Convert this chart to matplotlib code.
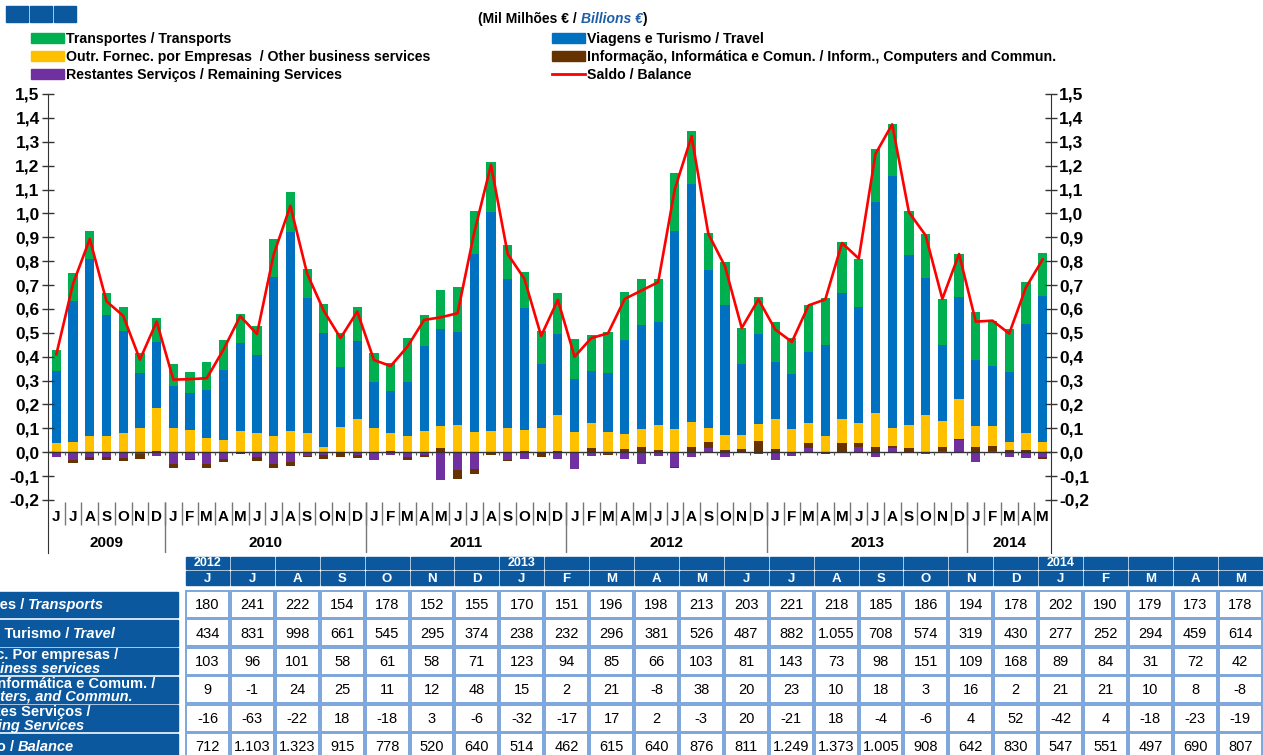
import numpy as np
import matplotlib.pyplot as plt
from matplotlib.patches import Rectangle, Patch
from matplotlib.lines import Line2D

plt.rcParams['font.family'] = ['Liberation Sans', 'DejaVu Sans']
NARROW = ['Liberation Sans Narrow', 'Liberation Sans', 'DejaVu Sans']

W, H = 1263, 755

# monthly values, million euro, Jun 2009 .. May 2014
month_letters = ['J', 'J', 'A', 'S', 'O', 'N', 'D',
                 'J', 'F', 'M', 'A', 'M', 'J', 'J', 'A', 'S', 'O', 'N', 'D',
                 'J', 'F', 'M', 'A', 'M', 'J', 'J', 'A', 'S', 'O', 'N', 'D',
                 'J', 'F', 'M', 'A', 'M', 'J', 'J', 'A', 'S', 'O', 'N', 'D',
                 'J', 'F', 'M', 'A', 'M', 'J', 'J', 'A', 'S', 'O', 'N', 'D',
                 'J', 'F', 'M', 'A', 'M']
years = ['2009', '2010', '2011', '2012', '2013', '2014']
months_per_year = [7, 12, 12, 12, 12, 5]

transports = [88, 117, 118, 90, 101, 84, 99,
              92, 91, 116, 125, 122, 123, 157, 164, 121, 123, 143, 141,
              122, 117, 181, 129, 165, 188, 182, 207, 142, 151, 138, 169,
              166, 150, 171, 202, 195,
              180, 241, 222, 154, 178, 152, 155,
              170, 151, 196, 198, 213, 203, 221, 218, 185, 186, 194, 178,
              202, 190, 179, 173, 178]
travel = [302, 593, 740, 508, 424, 233, 276,
          176, 155, 201, 293, 368, 327, 669, 837, 565, 474, 249, 326,
          192, 178, 226, 359, 405, 391, 746, 918, 626, 512, 271, 341,
          223, 219, 247, 394, 436,
          434, 831, 998, 661, 545, 295, 374,
          238, 232, 296, 381, 526, 487, 882, 1055, 708, 574, 319, 430,
          277, 252, 294, 459, 614]
other_business = [38, 42, 68, 68, 82, 100, 180,
                  100, 92, 61, 52, 88, 80, 66, 87, 80, 24, 107, 140,
                  100, 75, 70, 87, 93, 114, 84, 89, 100, 87, 100, 151,
                  84, 104, 84, 63, 72,
                  103, 96, 101, 58, 61, 58, 71,
                  123, 94, 85, 66, 103, 81, 143, 73, 98, 151, 109, 168,
                  89, 84, 31, 72, 42]
information = [-2, -13, -12, -12, -11, -20, 7,
               -15, -2, -18, -10, -6, -15, -14, -16, -3, -19, -18, -16,
               -2, 5, -12, -12, 17, -36, -21, -5, -3, 5, -20, 5,
               -2, 17, -5, 12, 24,
               9, -1, 24, 25, 11, 12, 48,
               15, 2, 21, -8, 38, 20, 23, 10, 18, 3, 16, 2,
               21, 21, 10, 8, -8]
remaining = [-18, -33, -20, -20, -25, -9, -15,
             -49, -30, -50, -30, -1, -20, -50, -40, -15, -10, -3, -10,
             -32, -10, -20, -10, -115, -74, -71, -5, -33, -28, -2, -28,
             -70, -14, -6, -28, -50,
             -16, -63, -22, 18, -18, 3, -6,
             -32, -17, 17, 2, -3, 20, -21, 18, -4, -6, 4, 52,
             -42, 4, -18, -23, -19]
balance = [410, 706, 893, 632, 571, 388, 547,
           304, 306, 310, 430, 570, 495, 828, 1032, 748, 592, 478, 589,
           386, 361, 442, 554, 565, 582, 921, 1203, 830, 726, 487, 638,
           400, 478, 498, 642, 677,
           712, 1103, 1323, 915, 778, 520, 640,
           514, 462, 615, 640, 876, 811, 1249, 1373, 1005, 908, 642, 830,
           547, 551, 497, 690, 807]

# table shows the last 24 months
table_start = 36
table_years = {0: '2012', 7: '2013', 19: '2014'}

GREEN, BLUE, YELLOW, BROWN, PURPLE, RED = '#00B050', '#0070C0', '#FFC000', '#663300', '#7030A0', '#FF0000'
DARK = '#0B589E'
CELL_EDGE = '#7EA6DC'

names = ['Transportes / Transports', 'Outr. Fornec. por Empresas  / Other business services',
         'Restantes Serviços / Remaining Services', 'Viagens e Turismo / Travel',
         'Informação, Informática e Comun. / Inform., Computers and Commun.', 'Saldo / Balance']

fig = plt.figure(figsize=(W / 100, H / 100), dpi=100)


def px_axes(x0, y0, x1, y1):
    return fig.add_axes([x0 / W, 1 - y1 / H, (x1 - x0) / W, (y1 - y0) / H])


ax = px_axes(48, 94, 1051, 500)
x = np.arange(len(balance))
pos = np.zeros(len(x))
neg = np.zeros(len(x))
series = [(remaining, PURPLE), (information, BROWN), (other_business, YELLOW),
          (travel, BLUE), (transports, GREEN)]
for vals, col in series:
    v = np.array(vals) / 1000
    bottom = np.where(v >= 0, pos, neg)
    ax.bar(x, v, width=0.55, bottom=bottom, color=col, linewidth=0)
    pos = pos + np.clip(v, 0, None)
    neg = neg + np.clip(v, None, 0)
ax.plot(x, np.array(balance) / 1000, color=RED, lw=1.9)

ax.set_xlim(-0.5, len(x) - 0.5)
ax.set_ylim(-0.2, 1.5)
ax.axhline(0, color='#333333', lw=1)
ax.vlines(np.arange(len(x) + 1) - 0.5, -0.013, 0, color='#555555', lw=0.8)
ax.set_xticks([])
yt = np.round(np.arange(-0.2, 1.51, 0.1), 1)
ax.set_yticks(yt, labels=[f'{v:.1f}'.replace('.', ',') for v in yt],
              fontweight='bold', fontsize=12.5)
ax.yaxis.set_ticks_position('both')
ax.tick_params(axis='y', direction='inout', length=8, width=1, pad=2,
               labelright=True, colors='#333333', labelcolor='black')
for s in ['top', 'bottom']:
    ax.spines[s].set_visible(False)
for s in ['left', 'right']:
    ax.spines[s].set_color('#333333')

# month / year labels under the chart
lab = px_axes(48, 500, 1051, 553)
lab.set_xlim(-0.5, len(x) - 0.5)
lab.set_ylim(0, 1)
lab.set_xticks([])
lab.set_yticks([])
lab.patch.set_alpha(0)
for s in ['top', 'bottom']:
    lab.spines[s].set_visible(False)
for s in ['left', 'right']:
    lab.spines[s].set_color('#333333')
for i, m in enumerate(month_letters):
    lab.text(i, 0.68, m, ha='center', va='center', fontsize=11, fontweight='bold')
lab.vlines(np.arange(1, len(x)) - 0.5, 0.53, 0.96, color='#777777', lw=1)
start = 0
for yr, n in zip(years, months_per_year):
    lab.text(start + (n - 1) / 2, 0.19, yr, ha='center', va='center',
             fontsize=11, fontweight='bold')
    if start > 0:
        lab.vlines(start - 0.5, 0, 0.96, color='#777777', lw=1)
    start += n

# legend and title
handles = [Patch(color=GREEN), Patch(color=YELLOW), Patch(color=PURPLE),
           Patch(color=BLUE), Patch(color=BROWN), Line2D([], [], color=RED, lw=2)]
lprop = dict(family=NARROW, weight='bold', size=10.2)
for k, xl in [(0, 31), (3, 552)]:
    fig.legend(handles[k:k + 3], names[k:k + 3], loc='upper left',
               bbox_to_anchor=(xl / W, 1 - 32 / H), frameon=False, prop=lprop,
               handlelength=2.3, handleheight=0.65, handletextpad=0.15,
               labelspacing=0.28, borderpad=0, borderaxespad=0)

t1 = fig.text(478 / W, 1 - 19 / H, '(Mil Milhões € / ', ha='left', va='center',
              family=NARROW, weight='bold', fontsize=10)
t2 = fig.add_artist(plt.Annotation('Billions €', xy=(1, 0), xycoords=t1, va='bottom',
                                   family=NARROW, weight='bold', style='italic',
                                   fontsize=10, color='#1F5FA8'))
fig.add_artist(plt.Annotation(')', xy=(1, 0), xycoords=t2, va='bottom',
                              family=NARROW, weight='bold', fontsize=10))

for i in range(3):
    fig.add_artist(Rectangle(((6 + 24 * i) / W, 1 - 22 / H), 22 / W, 16 / H,
                             transform=fig.transFigure, color=DARK))

# data table
tb = px_axes(0, 555, W, H)
tb.set_xlim(0, W)
tb.set_ylim(H, 555)
tb.axis('off')
col0, colw = 185, 44.9
row0, rowh = 591, 28.4
table_rows = [transports, travel, other_business, information, remaining, balance]


def fmt(v):
    return f'{v:,}'.replace(',', '.')


ncol = len(balance) - table_start
for c in range(ncol):
    cx = col0 + c * colw
    tb.add_patch(Rectangle((cx + 1, 557), colw - 2, 12, color=DARK, clip_on=False))
    tb.add_patch(Rectangle((cx + 1, 571), colw - 2, 14, color=DARK, clip_on=False))
    if c in table_years:
        tb.text(cx + colw / 2, 563.5, table_years[c], ha='center', va='center',
                color='white', fontsize=9, fontweight='bold')
    tb.text(cx + colw / 2, 578.5, month_letters[table_start + c], ha='center',
            va='center', color='white', fontsize=9.5, fontweight='bold')
    for r, vals in enumerate(table_rows):
        ry = row0 + r * rowh
        tb.add_patch(Rectangle((cx + 1, ry), colw - 2, rowh - 1.5, facecolor='white',
                               edgecolor=CELL_EDGE, lw=1.4, clip_on=False))
        tb.text(cx + colw / 2, ry + rowh / 2, fmt(vals[table_start + c]), ha='center',
                va='center', fontsize=10.5)

# row labels: the left part of these cells lies beyond the image edge
row_labels = [('Transportes / ', 'Transports', 104, None),
              ('Viagens e Turismo / ', 'Travel', 116, None),
              ('Outr. Fornec. Por empresas /', 'Other business services', 118, 100),
              ('Informação, Informática e Comum. /', 'Inform., Computers, and Commun.', 155, 133),
              ('Restantes Serviços /', 'Remaining Services', 91, 84),
              ('Saldo / ', 'Balance', 74, None)]
lbl_kw = dict(color='white', fontsize=10.5, fontweight='bold')
for r, (a, b, xa, xb) in enumerate(row_labels):
    ry = row0 + r * rowh
    tb.add_patch(Rectangle((-5, ry + 0.5), 183, rowh - 2.5, color=DARK, clip_on=False))
    yc = ry + rowh / 2
    if xb is None:
        it = tb.text(xa, yc, b, ha='right', va='center', style='italic', **lbl_kw)
        tb.annotate(a, xy=(0, 0), xycoords=it, ha='right', va='bottom', **lbl_kw)
    else:
        tb.text(xa, yc - 6.5, a, ha='right', va='center', **lbl_kw)
        tb.text(xb, yc + 7, b, ha='right', va='center', style='italic', **lbl_kw)

fig.savefig('out.png', dpi=100)
